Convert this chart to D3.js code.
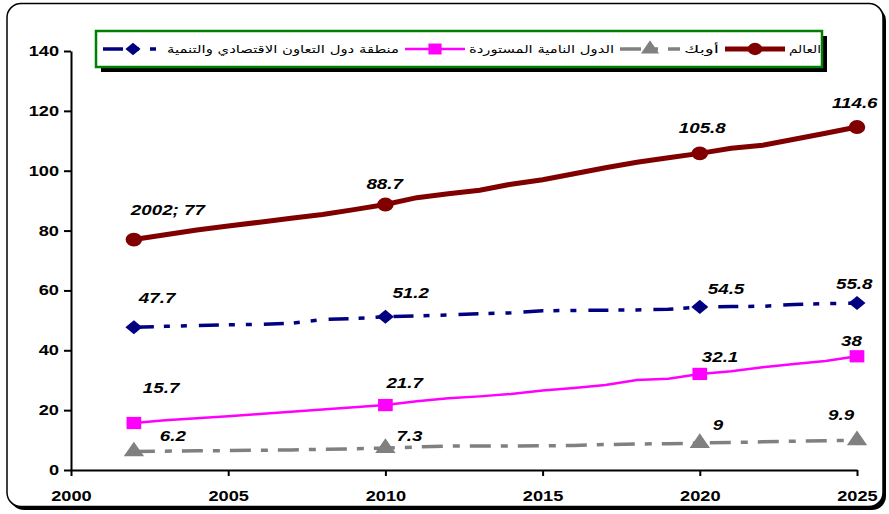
<!DOCTYPE html>
<html>
  <head>
    <meta charset="utf-8">
    <title>Oil demand chart</title>
    <script src="https://cdn.jsdelivr.net/npm/d3@7"></script>
    <style>
      body { margin: 0; background: #fff; }
      #chart { display: block; }
      .axis path, .axis line { stroke: #000; stroke-width: 2; }
      .axis text { font-family: "Liberation Sans", Arial, sans-serif; font-weight: bold; font-size: 14px; fill: #000; }
      .label { font-family: "Liberation Sans", Arial, sans-serif; font-weight: bold; font-style: italic; font-size: 15px; fill: #000; }
      .legendText { font-family: "DejaVu Sans", sans-serif; font-size: 11px; fill: #000; }
    </style>
  </head>

  <body>
    <svg id="chart" width="889" height="514"></svg>

    <script>
      // data
      years = [2002, 2003, 2004, 2005, 2006, 2007, 2008, 2009, 2010, 2011, 2012, 2013,
        2014, 2015, 2016, 2017, 2018, 2019, 2020, 2021, 2022, 2023, 2024, 2025];
      seriesNames = ["العالم", "أوبك", "الدول النامية المستوردة", "منطقة دول التعاون الاقتصادي والتنمية"];
      worldValues = [77, 78.6, 80.2, 81.5, 82.8, 84.1, 85.4, 87.0, 88.7, 91.0, 92.3, 93.5,
        95.5, 97.0, 99.0, 101.0, 102.8, 104.3, 105.8, 107.5, 108.5, 110.5, 112.5, 114.6];
      opecValues = [6.2, 6.3, 6.4, 6.5, 6.6, 6.7, 6.9, 7.1, 7.3, 7.7, 8.0, 8.0,
        8.0, 8.1, 8.2, 8.5, 8.7, 8.8, 9.0, 9.2, 9.4, 9.6, 9.8, 9.9];
      developingValues = [15.7, 16.6, 17.3, 18.0, 18.7, 19.5, 20.2, 21.0, 21.7, 23.0, 24.0, 24.6,
        25.4, 26.6, 27.4, 28.4, 30.1, 30.5, 32.1, 33.0, 34.3, 35.4, 36.4, 38.0];
      oecdValues = [47.7, 48.0, 48.3, 48.5, 48.7, 49.0, 50.3, 50.6, 51.2, 51.5, 51.8, 52.2,
        52.5, 53.2, 53.3, 53.4, 53.5, 53.7, 54.5, 54.6, 54.7, 55.3, 55.6, 55.8];
      markerYears = [2002, 2010, 2020, 2025];
      worldLabels = ["2002; 77", "88.7", "105.8", "114.6"];
      opecLabels = ["6.2", "7.3", "9", "9.9"];
      developingLabels = ["15.7", "21.7", "32.1", "38"];
      oecdLabels = ["47.7", "51.2", "54.5", "55.8"];
      xTicks = [2000, 2005, 2010, 2015, 2020, 2025];
      yTicks = [0, 20, 40, 60, 80, 100, 120, 140];

      // look of each series
      styles = [
        { values: worldValues, labels: worldLabels, color: "#800000", width: 5, dash: null,
          symbol: d3.symbolCircle, size: 150, rotate: 0,
          offsets: [[-3, -25], [-19, -16], [-21, -20], [-25, -19]] },
        { values: opecValues, labels: opecLabels, color: "#808080", width: 3.5, dash: "21,10,7,10",
          symbol: d3.symbolTriangle, size: 125, rotate: 0,
          offsets: [[26, -10], [11, -7], [13, -13], [-29, -20]] },
        { values: developingValues, labels: developingLabels, color: "#ff00ff", width: 2.5, dash: null,
          symbol: d3.symbolSquare, size: 150, rotate: 0,
          offsets: [[9, -30], [1, -17], [2, -12], [-16, -10]] },
        { values: oecdValues, labels: oecdLabels, color: "#000080", width: 3.5, dash: "20,10,6,11,6,12",
          symbol: d3.symbolSquare, size: 100, rotate: 45,
          offsets: [[5, -24], [7, -19], [8, -13], [-21, -14]] }
      ];
      legendX = [725, 620, 405, 103];
      legendRight = 821;
      stretchK = 1.3;

      chart = d3.select("#chart");

      // frame with shadow
      chart.append("rect")
        .attr("x", 10).attr("y", 7)
        .attr("width", 876).attr("height", 503)
        .attr("rx", 14)
        .attr("fill", "#000");
      chart.append("rect")
        .attr("x", 7).attr("y", 3.5)
        .attr("width", 876).attr("height", 503)
        .attr("rx", 14)
        .attr("fill", "#fff")
        .attr("stroke", "#000")
        .attr("stroke-width", 1.5);

      x = d3.scaleLinear()
        .domain([2000, 2025])
        .range([71, 857]);
      y = d3.scaleLinear()
        .domain([0, 140])
        .range([470, 51]);

      function stretch(sel, k) {
        sel.each(function() {
          let w = this.getComputedTextLength();
          d3.select(this)
            .attr("textLength", w * k)
            .attr("lengthAdjust", "spacingAndGlyphs");
        });
      }

      // axes
      xAxis = d3.axisBottom(x)
        .tickValues(xTicks)
        .tickFormat(d3.format("d"))
        .tickSizeInner(6)
        .tickSizeOuter(0)
        .tickPadding(15);
      yAxis = d3.axisLeft(y)
        .tickValues(yTicks)
        .tickSizeInner(7)
        .tickSizeOuter(0)
        .tickPadding(5);

      chart.append("g")
        .attr("class", "axis")
        .attr("transform", "translate(0," + y(0) + ")")
        .call(xAxis);
      chart.append("g")
        .attr("class", "axis")
        .attr("transform", "translate(" + x(2000) + ",0)")
        .call(yAxis);
      chart.selectAll(".axis .domain").attr("stroke-width", 2);
      stretch(chart.selectAll(".axis text"), stretchK);

      // lines
      line = d3.line()
        .x((d, i) => x(years[i]))
        .y(d => y(d));

      function marker(s, px, py) {
        return "translate(" + px + "," + py + ") scale(1.2,1) rotate(" + s.rotate + ")";
      }

      styles.slice().reverse().forEach(s => {
        let g = chart.append("g");
        g.append("path")
          .datum(s.values)
          .attr("d", line)
          .attr("fill", "none")
          .attr("stroke", s.color)
          .attr("stroke-width", s.width)
          .attr("stroke-dasharray", s.dash);

        g.selectAll(".mark")
          .data(markerYears)
          .enter().append("path")
            .attr("class", "mark")
            .attr("d", d3.symbol(s.symbol, s.size))
            .attr("fill", s.color)
            .attr("transform", d => marker(s, x(d), y(s.values[years.indexOf(d)])));

        let labels = g.selectAll(".label")
          .data(markerYears)
          .enter().append("text")
            .attr("class", "label")
            .attr("x", (d, i) => x(d) + s.offsets[i][0])
            .attr("y", (d, i) => y(s.values[years.indexOf(d)]) + s.offsets[i][1])
            .text((d, i) => s.labels[i]);
        stretch(labels, 1.25);
      });

      // legend
      legend = chart.append("g");
      legend.append("rect")
        .attr("x", 101).attr("y", 36)
        .attr("width", 726).attr("height", 36)
        .attr("fill", "#000");
      legend.append("rect")
        .attr("x", 96).attr("y", 31)
        .attr("width", 726).attr("height", 36)
        .attr("fill", "#fff")
        .attr("stroke", "#008000")
        .attr("stroke-width", 2.5);

      styles.forEach((s, i) => {
        let x0 = legendX[i];
        let ly = 49;
        let item = legend.append("g");
        item.append("line")
          .attr("x1", x0).attr("x2", x0 + 60)
          .attr("y1", ly).attr("y2", ly)
          .attr("stroke", s.color)
          .attr("stroke-width", s.width)
          .attr("stroke-dasharray", s.dash);
        item.append("path")
          .attr("d", d3.symbol(s.symbol, s.size * 0.8))
          .attr("fill", s.color)
          .attr("transform", marker(s, x0 + 30, ly));
        let tx = x0 + 64;
        let right = i == 0 ? legendRight : legendX[i - 1] - 6;
        item.append("text")
          .attr("class", "legendText")
          .attr("x", tx)
          .attr("y", ly + 4)
          .attr("textLength", right - tx)
          .attr("lengthAdjust", "spacingAndGlyphs")
          .text(seriesNames[i]);
      });
    </script>
  </body>
</html>
